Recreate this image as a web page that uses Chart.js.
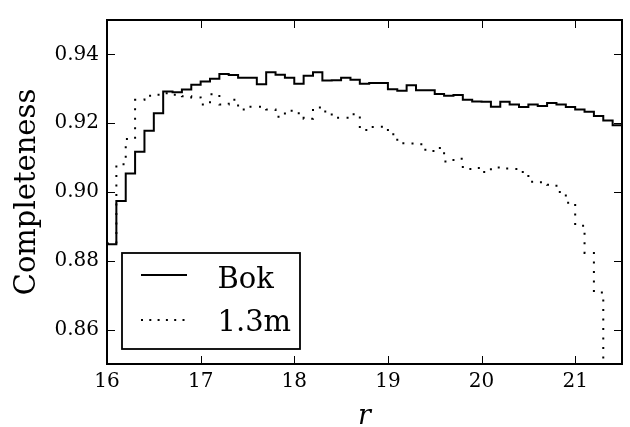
<!DOCTYPE html>
<html><head><meta charset="utf-8">
<script src="https://cdn.jsdelivr.net/npm/chart.js@4.4.1/dist/chart.umd.min.js"></script>
<style>html,body{margin:0;padding:0;background:#fff}#wrap{width:630px;height:427px}</style>
</head><body><div id="wrap"><canvas id="c" width="630" height="427"></canvas></div>
<script>
// bin edges of r (left edges, last entry closes the final bin)
const binEdges = [16.0,16.1,16.2,16.3,16.4,16.5,16.6,16.7,16.8,16.9,
  17.0,17.1,17.2,17.3,17.4,17.5,17.6,17.7,17.8,17.9,
  18.0,18.1,18.2,18.3,18.4,18.5,18.6,18.7,18.8,18.9,
  19.0,19.1,19.2,19.3,19.4,19.5,19.6,19.7,19.8,19.9,
  20.0,20.1,20.2,20.3,20.4,20.5,20.6,20.7,20.8,20.9,
  21.0,21.1,21.2,21.3,21.4,21.5];
const seriesNames = ['Bok', '1.3m'];
const bokCompleteness = [0.8848,0.8974,0.9054,0.9117,0.9178,0.9229,0.9292,0.9290,0.9298,0.9312,
  0.9321,0.9329,0.9343,0.9340,0.9332,0.9332,0.9313,0.9348,0.9341,0.9332,
  0.9315,0.9338,0.9348,0.9324,0.9325,0.9332,0.9326,0.9315,0.9317,0.9317,
  0.9299,0.9294,0.9310,0.9296,0.9296,0.9285,0.9280,0.9282,0.9268,0.9263,
  0.9262,0.9248,0.9262,0.9254,0.9247,0.9254,0.9250,0.9259,0.9254,0.9247,
  0.9240,0.9233,0.9221,0.9208,0.9194];
const m13Completeness = [0.8850,0.9081,0.9154,0.9268,0.9280,0.9283,0.9287,0.9283,0.9278,0.9275,
  0.9254,0.9284,0.9254,0.9268,0.9240,0.9248,0.9248,0.9240,0.9219,0.9236,
  0.9229,0.9213,0.9246,0.9234,0.9216,0.9216,0.9226,0.9180,0.9189,0.9190,
  0.9168,0.9142,0.9141,0.9139,0.9119,0.9128,0.9089,0.9097,0.9067,0.9070,
  0.9058,0.9071,0.9068,0.9067,0.9058,0.9030,0.9028,0.9021,0.9000,0.8969,
  0.8902,0.8823,0.8708,0.8400,0.8300];
const xTickValues = [16,17,18,19,20,21];
const xTickLabels = ['16','17','18','19','20','21'];
const yTickValues = [0.86,0.88,0.90,0.92,0.94];
const yTickLabels = ['0.86','0.88','0.90','0.92','0.94'];

function stepPoints(vals) {
  const pts = vals.map((v, i) => ({x: binEdges[i], y: v}));
  pts.push({x: binEdges[vals.length], y: vals[vals.length - 1]});
  return pts;
}
function labelFor(v, vals, labels) {
  let best = 0;
  vals.forEach((t, i) => { if (Math.abs(t - v) < Math.abs(vals[best] - v)) best = i; });
  return labels[best];
}

const SERIF = "'DejaVu Serif', 'Liberation Serif', serif";
const DOT = [2, 7.5];
const LEGEND_DOT = [2, 6.3];

const framePlugin = {
  id: 'frameTicksLegend',
  afterDatasetsDraw(chart) {
    const {ctx, chartArea: a, scales: {x, y}} = chart;
    ctx.save();
    ctx.strokeStyle = '#000';
    ctx.lineWidth = 1;
    const tl = 8;
    ctx.beginPath();
    x.ticks.forEach(t => {
      const px = Math.round(x.getPixelForValue(t.value)) + 0.5;
      ctx.moveTo(px, a.bottom); ctx.lineTo(px, a.bottom - tl);
      ctx.moveTo(px, a.top); ctx.lineTo(px, a.top + tl);
    });
    y.ticks.forEach(t => {
      const py = Math.round(y.getPixelForValue(t.value)) + 0.5;
      ctx.moveTo(a.left, py); ctx.lineTo(a.left + tl, py);
      ctx.moveTo(a.right, py); ctx.lineTo(a.right - tl, py);
    });
    ctx.stroke();
    ctx.lineWidth = 2;
    ctx.strokeRect(a.left, a.top, a.right - a.left, a.bottom - a.top);

    // legend (lower left, inside axes)
    const bx = a.left + 15, bw = 178, bh = 96;
    const by = a.bottom - 15 - bh;
    ctx.fillStyle = '#fff';
    ctx.fillRect(bx, by, bw, bh);
    ctx.lineWidth = 1.8;
    ctx.strokeRect(bx, by, bw, bh);
    const ds = chart.data.datasets;
    const rows = [{dy: 22, ty: 35}, {dy: 67, ty: 78}];
    rows.forEach((r, i) => {
      ctx.beginPath();
      ctx.lineWidth = 2;
      ctx.setLineDash(ds[i].borderDash ? LEGEND_DOT : []);
      ctx.moveTo(bx + 19, by + r.dy);
      ctx.lineTo(bx + 65, by + r.dy);
      ctx.stroke();
      ctx.setLineDash([]);
      ctx.fillStyle = '#000';
      ctx.font = "29px " + SERIF;
      ctx.textBaseline = 'alphabetic';
      ctx.textAlign = 'left';
      ctx.fillText(ds[i].label, bx + 95.5, by + r.ty);
    });
    ctx.restore();
  }
};

new Chart(document.getElementById('c'), {
  type: 'line',
  data: {
    datasets: [
      {label: seriesNames[0], data: stepPoints(bokCompleteness), borderColor: '#000',
       borderWidth: 2, stepped: 'before', pointRadius: 0, fill: false},
      {label: seriesNames[1], data: stepPoints(m13Completeness), borderColor: '#000',
       borderWidth: 2, borderDash: DOT, borderCapStyle: 'butt', stepped: 'before', pointRadius: 0, fill: false}
    ]
  },
  options: {
    responsive: false,
    animation: false,
    devicePixelRatio: 1,
    layout: {padding: {top: 7, right: 8, left: 0, bottom: 0}},
    plugins: {legend: {display: false}, tooltip: {enabled: false}},
    scales: {
      x: {
        type: 'linear', min: 16, max: 21.5,
        afterBuildTicks: s => { s.ticks = xTickValues.map(v => ({value: v})); },
        afterFit: s => { s.height = 63; },
        grid: {display: false, drawTicks: false}, border: {display: false},
        ticks: {callback: v => labelFor(v, xTickValues, xTickLabels), color: '#000',
                font: {family: SERIF, size: 20}, padding: 6, maxRotation: 0, autoSkip: false},
        title: {display: true, text: 'r', color: '#000',
                font: {family: SERIF, style: 'italic', size: 27, lineHeight: 1},
                padding: {top: 0, bottom: -3}}
      },
      y: {
        type: 'linear', min: 0.85, max: 0.95,
        afterBuildTicks: s => { s.ticks = yTickValues.map(v => ({value: v})); },
        afterFit: s => { s.width = 107; },
        grid: {display: false, drawTicks: false}, border: {display: false},
        ticks: {callback: v => labelFor(v, yTickValues, yTickLabels), color: '#000',
                font: {family: SERIF, size: 20}, padding: 8, autoSkip: false},
        title: {display: true, text: 'Completeness', color: '#000',
                font: {family: SERIF, size: 29, lineHeight: 1},
                padding: {top: 13, bottom: 0}}
      }
    }
  },
  plugins: [framePlugin]
});
</script>
</body></html>
